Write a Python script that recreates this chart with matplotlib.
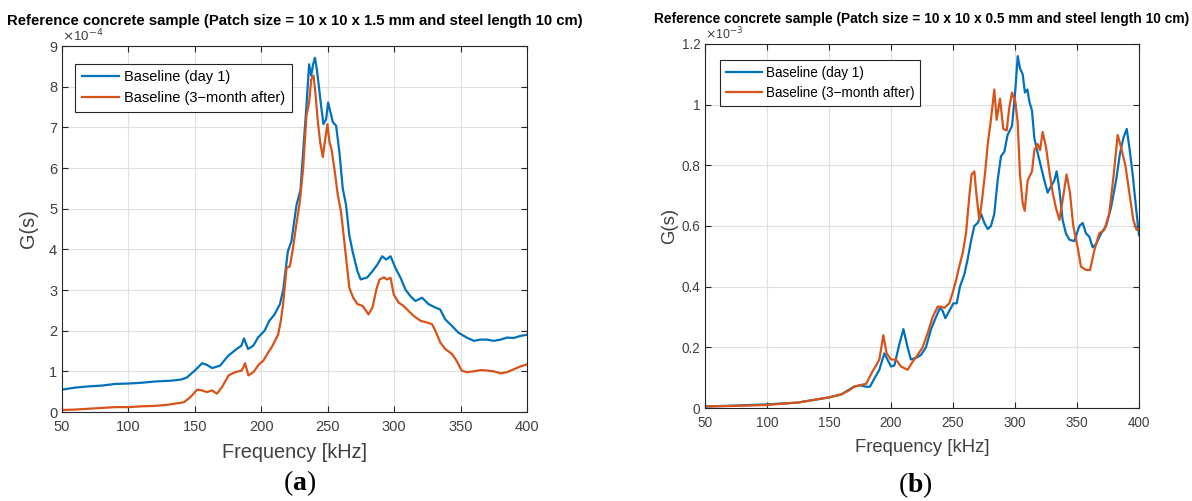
import matplotlib
matplotlib.use('Agg')
import matplotlib.pyplot as plt
from matplotlib.ticker import FuncFormatter

plt.rcParams['font.family'] = ['Liberation Sans', 'DejaVu Sans']
plt.rcParams['mathtext.fontset'] = 'custom'
plt.rcParams['mathtext.rm'] = 'Liberation Serif'
plt.rcParams['mathtext.bf'] = 'Liberation Serif:bold'

# (a) patch 10 x 10 x 1.5 mm, values in 1e-4
freq_a_day1 = [50, 60, 70, 80, 90, 100, 110, 120, 132, 140, 144, 150, 155.5, 159, 163, 169, 175, 181.5,
               185, 187, 190, 194, 197.5, 202.5, 206, 210, 214, 216.5, 220, 222.7, 226.5, 229.5, 231.5,
               234, 236, 237.6, 239, 240.4, 241.8, 243.3, 245, 246.8, 248.8, 250.3, 251.8, 253.8, 256.3,
               258.8, 261.3, 263.8, 266.2, 268.7, 272.4, 274.8, 279.8, 283.6, 287.3, 291, 294, 297.3,
               301, 304.8, 308.5, 312.2, 316, 321, 326, 331, 334.7, 338.4, 343.4, 348.4, 354.6, 360,
               365, 370, 375, 380, 385, 390, 395, 400]
gs_a_day1 = [0.55, 0.6, 0.63, 0.65, 0.69, 0.7, 0.72, 0.75, 0.77, 0.8, 0.85, 1.02, 1.2, 1.16, 1.08, 1.14,
             1.38, 1.55, 1.63, 1.81, 1.55, 1.63, 1.83, 2.0, 2.24, 2.4, 2.65, 3.0, 3.95, 4.2, 5.09, 5.46,
             6.4, 7.53, 8.55, 8.27, 8.55, 8.71, 8.43, 8.02, 7.53, 7.08, 7.2, 7.61, 7.41, 7.13, 7.04,
             6.39, 5.5, 5.09, 4.36, 3.95, 3.46, 3.26, 3.31, 3.46, 3.62, 3.83, 3.75, 3.83, 3.54, 3.3,
             3.01, 2.85, 2.73, 2.81, 2.65, 2.57, 2.52, 2.28, 2.12, 1.95, 1.83, 1.75, 1.78, 1.78, 1.75,
             1.78, 1.83, 1.82, 1.87, 1.9]

freq_a_3m = [50, 60, 70, 80, 90, 100, 110, 120, 130, 141.8, 146.8, 151.7, 155.5, 159, 163, 166.6, 170.4,
             175.4, 180.4, 185.4, 187.8, 190.3, 194, 198.5, 201.5, 205.3, 207.8, 210.3, 212.7, 214.7,
             216.4, 219, 221.5, 223.5, 226, 229, 231.5, 234, 236, 237.6, 239.4, 240.9, 242.6, 244.3,
             246.3, 247.8, 249.8, 251.3, 252.8, 255, 257.6, 260, 262.5, 266.3, 269.2, 272.5, 276.3,
             280.7, 283.7, 286.6, 289, 292.3, 294.7, 297.3, 299.7, 303.4, 307, 311, 314.8, 320, 324.8,
             328.5, 331, 334.7, 338.4, 343.4, 347, 350.8, 354.6, 360, 365, 370, 375, 380, 385, 390,
             395, 400]
gs_a_3m = [0.05, 0.06, 0.08, 0.1, 0.12, 0.12, 0.14, 0.15, 0.18, 0.24, 0.37, 0.55, 0.53, 0.49, 0.53, 0.45,
           0.61, 0.9, 0.98, 1.02, 1.2, 0.9, 0.98, 1.18, 1.26, 1.47, 1.59, 1.75, 1.91, 2.24, 2.65, 3.54,
           3.58, 3.95, 4.52, 5.17, 5.99, 7.29, 7.61, 8.18, 8.27, 7.78, 7.13, 6.64, 6.27, 6.64, 7.08,
           6.64, 6.47, 5.99, 5.33, 4.93, 4.19, 3.05, 2.81, 2.65, 2.61, 2.4, 2.57, 3.01, 3.26, 3.31,
           3.26, 3.3, 2.89, 2.69, 2.61, 2.48, 2.36, 2.24, 2.2, 2.16, 2.0, 1.71, 1.55, 1.43, 1.26, 1.02,
           0.98, 1.0, 1.03, 1.02, 1.0, 0.95, 0.98, 1.05, 1.12, 1.17]

# (b) patch 10 x 10 x 0.5 mm, values in 1e-3
freq_b_day1 = [50, 75, 100, 125, 150, 160, 170, 175, 180, 183, 187, 190.6, 194.6, 200, 202.7, 206.7, 210,
               213.4, 216, 220, 224.2, 228.2, 232.3, 236.3, 239.5, 241.7, 243.8, 247, 250.3, 253, 255.6,
               259.1, 261.8, 264.5, 267.2, 269.9, 272.6, 275.3, 278, 280.6, 283.3, 286, 288.7, 291.4,
               294, 297.6, 300.3, 302.2, 304, 306.2, 308, 310, 311.6, 313.7, 315.6, 318.3, 321, 323.7,
               326.3, 329, 331.7, 333.6, 335.8, 338.4, 341.1, 343.8, 347.8, 351.9, 354.6, 357.3, 359.9,
               362.6, 365.3, 369.4, 373.4, 377.4, 381.5, 384.7, 387.4, 390.1, 392.2, 394.9, 397.6, 400]
gs_b_day1 = [0.005, 0.008, 0.012, 0.018, 0.035, 0.045, 0.07, 0.075, 0.07, 0.07, 0.1, 0.126, 0.18, 0.137,
             0.14, 0.21, 0.26, 0.2, 0.16, 0.165, 0.175, 0.2, 0.26, 0.3, 0.33, 0.32, 0.296, 0.32, 0.345,
             0.345, 0.4, 0.44, 0.49, 0.55, 0.6, 0.61, 0.64, 0.61, 0.59, 0.6, 0.64, 0.75, 0.83, 0.845,
             0.9, 0.93, 1.05, 1.16, 1.12, 1.1, 1.04, 1.05, 1.01, 0.98, 0.89, 0.84, 0.795, 0.75, 0.71,
             0.73, 0.75, 0.78, 0.72, 0.62, 0.575, 0.555, 0.55, 0.6, 0.61, 0.575, 0.565, 0.53, 0.54,
             0.575, 0.6, 0.66, 0.75, 0.84, 0.89, 0.92, 0.86, 0.77, 0.66, 0.57]

freq_b_3m = [50, 75, 100, 125, 150, 160, 167, 170, 175, 180, 185, 188, 190.6, 193.8, 196.5, 200, 204, 208,
             213.4, 217.5, 221.5, 225.5, 229.6, 233.6, 237.6, 240.3, 243, 247, 249.7, 252.4, 255,
             257.8, 260.5, 263.2, 265, 267.2, 269, 271.2, 273.4, 276, 278, 280.6, 283.3, 285.2, 287.9,
             290.6, 293.3, 295.4, 297.6, 300.3, 302.2, 304, 306.2, 307.8, 310.2, 313.7, 315.6, 318.3,
             320.2, 322.3, 325, 327.7, 330.4, 333, 335.8, 338.4, 341.6, 344.3, 347, 350.5, 353.2,
             357.3, 360.5, 364, 368, 372, 376, 379.6, 382.8, 385.5, 389, 392.2, 395.4, 398.1, 400]
gs_b_3m = [0.005, 0.007, 0.01, 0.018, 0.035, 0.045, 0.06, 0.07, 0.075, 0.08, 0.12, 0.14, 0.16, 0.24,
           0.18, 0.16, 0.16, 0.137, 0.126, 0.153, 0.175, 0.2, 0.247, 0.3, 0.334, 0.334, 0.33, 0.345,
           0.38, 0.42, 0.466, 0.51, 0.576, 0.7, 0.77, 0.78, 0.7, 0.62, 0.685, 0.78, 0.87, 0.95, 1.05,
           0.95, 1.02, 0.92, 0.915, 0.99, 1.04, 1.01, 0.94, 0.77, 0.675, 0.65, 0.75, 0.78, 0.85, 0.87,
           0.85, 0.91, 0.86, 0.78, 0.71, 0.66, 0.62, 0.685, 0.77, 0.71, 0.6, 0.53, 0.466, 0.455,
           0.455, 0.52, 0.576, 0.587, 0.64, 0.77, 0.9, 0.86, 0.8, 0.71, 0.62, 0.587, 0.59]

labels = ['Baseline (day 1)', 'Baseline (3\u2212month after)']
titles = ['Reference concrete sample (Patch size = 10 x 10 x 1.5 mm and steel length 10 cm)',
          'Reference concrete sample (Patch size = 10 x 10 x 0.5 mm and steel length 10 cm)']
blue = '#0072BD'
orange = '#D95319'
txt_gray = '#404040'

W, H = 1192, 501
fig = plt.figure(figsize=(W / 100, H / 100), dpi=100)


def px_axes(left, top, right, bottom):
    return fig.add_axes([left / W, 1 - bottom / H, (right - left) / W, (bottom - top) / H])


def style(ax, ymax, yticks, exp, scale, leg_anchor, ylabelpad):
    ax.set_xlim(50, 400)
    ax.set_ylim(0, ymax)
    ax.set_xticks(range(50, 401, 50))
    ax.set_yticks(yticks)
    ax.yaxis.set_major_formatter(FuncFormatter(lambda v, p: '%g' % round(v, 3)))
    ax.grid(True, color='#e0e0e0', lw=0.8)
    ax.set_axisbelow(True)
    ax.tick_params(direction='in', top=True, right=True, length=4, width=0.8,
                   colors='#262626', labelcolor=txt_gray, labelsize=10.5 * scale)
    ax.tick_params(axis='x', pad=6)
    for s in ax.spines.values():
        s.set_color('#262626')
        s.set_linewidth(0.8)
    ax.set_xlabel('Frequency [kHz]', fontsize=14.3 * scale, color=txt_gray, labelpad=6)
    ax.set_ylabel('G(s)', fontsize=14.3 * scale, color=txt_gray, labelpad=ylabelpad)
    ax.text(0.0, 1.005, r'$\times$10$^{%d}$' % exp, transform=ax.transAxes, fontsize=9.6 * scale,
            color=txt_gray, ha='left', va='bottom', family='Liberation Sans', math_fontfamily='dejavusans')
    ax.legend(labels, loc='upper left', bbox_to_anchor=leg_anchor, fontsize=10.5 * scale,
              fancybox=False, edgecolor='#262626', framealpha=1, handlelength=2.6,
              borderaxespad=0, borderpad=0.45, labelspacing=0.45, handletextpad=0.3)
    ax.legend_.get_frame().set_linewidth(0.8)


ax1 = px_axes(62, 46, 527, 412)
ax1.plot(freq_a_day1, gs_a_day1, color=blue, lw=1.6)
ax1.plot(freq_a_3m, gs_a_3m, color=orange, lw=1.6)
style(ax1, 9, range(0, 10), -4, 1.0, (0.028, 0.951), 8)
ax1.set_title(titles[0], fontsize=10.7, fontweight='bold', pad=15)

ax2 = px_axes(705, 44, 1139, 408)
ax2.plot(freq_b_day1, gs_b_day1, color=blue, lw=1.6)
ax2.plot(freq_b_3m, gs_b_3m, color=orange, lw=1.6)
style(ax2, 1.2, [0, 0.2, 0.4, 0.6, 0.8, 1.0, 1.2], -3, 0.93, (0.035, 0.956), 2)
ax2.set_title(titles[1], fontsize=9.9, fontweight='bold', pad=15)

fig.text(300 / W, 1 - 483 / H, r'($\mathbf{a}$)', fontsize=20, ha='center', va='center',
         family='Liberation Serif')
fig.text(915 / W, 1 - 485 / H, r'($\mathbf{b}$)', fontsize=20, ha='center', va='center',
         family='Liberation Serif')

fig.savefig('out.png', dpi=100)
